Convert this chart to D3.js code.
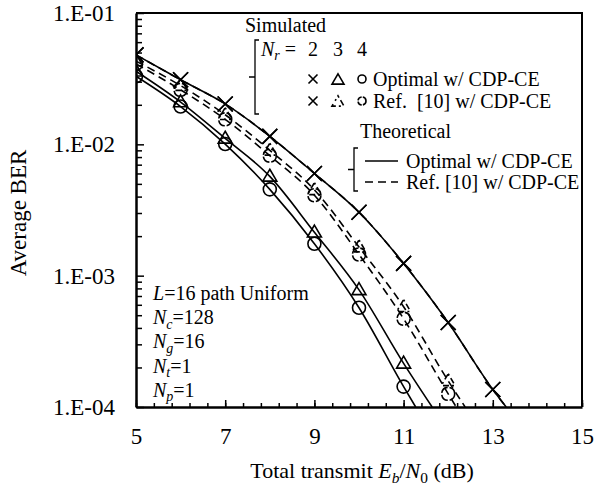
<!DOCTYPE html>
<html>
<head>
<meta charset="utf-8">
<script src="https://cdn.jsdelivr.net/npm/d3@7"></script>
<style>
  body { margin: 0; background: #fff; }
  svg text { font-family: "Liberation Serif", Tinos, "Times New Roman", Times, "DejaVu Serif", serif; fill: #000; }
</style>
</head>
<body>
<svg id="chart" width="595" height="492"></svg>
<script>
// axis ticks
const xTicks = [5, 7, 9, 11, 13, 15]
const yTicks = [1e-1, 1e-2, 1e-3, 1e-4]
const yTickLabels = ['1.E-01', '1.E-02', '1.E-03', '1.E-04']

// simulated points (Eb/N0 in dB, average BER)
const snrNr2 = [5, 6, 7, 8, 9, 10, 11, 12, 13]
const simOptNr2 = [0.048, 0.031, 0.0203, 0.0115, 0.0060, 0.00304, 0.00124, 0.00044, 0.000136]
const simRefNr2 = [0.048, 0.031, 0.0203, 0.0115, 0.0060, 0.00304, 0.00124, 0.00044, 0.000136]
const snrOpt = [5, 6, 7, 8, 9, 10, 11]
const simOptNr3 = [0.036, 0.0210, 0.0111, 0.0057, 0.00214, 0.00078, 0.000215]
const simOptNr4 = [0.033, 0.0194, 0.01005, 0.00454, 0.00175, 0.00057, 0.000143]
const snrRef = [5, 6, 7, 8, 9, 10, 11, 12]
const simRefNr3 = [0.043, 0.028, 0.0168, 0.0090, 0.0045, 0.00165, 0.00058, 0.000158]
const simRefNr4 = [0.041, 0.026, 0.0155, 0.0082, 0.0041, 0.00145, 0.00047, 0.000126]

// theoretical curves (last point where the line leaves the plot)
const thSnrNr2 = [5, 6, 7, 8, 9, 10, 11, 12, 13, 13.3]
const thOptNr2 = [0.048, 0.031, 0.0203, 0.0115, 0.0060, 0.00304, 0.00124, 0.00044, 0.000136, 0.0001]
const thRefNr2 = [0.048, 0.031, 0.0203, 0.0115, 0.0060, 0.00304, 0.00124, 0.00044, 0.000136, 0.0001]
const thSnrOptNr3 = [5, 6, 7, 8, 9, 10, 11, 11.64]
const thOptNr3 = [0.036, 0.0210, 0.0111, 0.0057, 0.00214, 0.00078, 0.000215, 0.0001]
const thSnrOptNr4 = [5, 6, 7, 8, 9, 10, 11, 11.27]
const thOptNr4 = [0.033, 0.0194, 0.01005, 0.00454, 0.00175, 0.00057, 0.000143, 0.0001]
const thSnrRefNr3 = [5, 6, 7, 8, 9, 10, 11, 12, 12.38]
const thRefNr3 = [0.043, 0.028, 0.0168, 0.0090, 0.0045, 0.00165, 0.00058, 0.000158, 0.0001]
const thSnrRefNr4 = [5, 6, 7, 8, 9, 10, 11, 12, 12.18]
const thRefNr4 = [0.041, 0.026, 0.0155, 0.0082, 0.0041, 0.00145, 0.00047, 0.000126, 0.0001]

const margin = {left: 136, right: 13, top: 13, bottom: 85}
const width = 595, height = 492
const axisFont = 23, titleFont = 22, textFont = 20

const svg = d3.select('#chart')
const x = d3.scaleLinear().domain([5, 15]).range([margin.left, width - margin.right])
const y = d3.scaleLog().domain([1e-4, 1e-1]).range([height - margin.bottom, margin.top])

svg.append('defs').append('clipPath').attr('id', 'plotClip')
  .append('rect')
  .attr('x', x(5)).attr('y', y(1e-1))
  .attr('width', x(15) - x(5)).attr('height', y(1e-4) - y(1e-1))

// text with italic parts and subscripts
function richText(g, px, py, parts, size, anchor) {
  const t = g.append('text').attr('x', px).attr('y', py)
    .style('font-size', size + 'px')
    .attr('text-anchor', anchor || 'start')
  let shifted = 0
  parts.forEach(p => {
    const s = t.append('tspan').text(p.t)
    if (p.i) s.style('font-style', 'italic')
    const want = p.sub ? size * 0.22 : 0
    if (want !== shifted) { s.attr('dy', want - shifted); shifted = want }
    if (p.sub) s.style('font-size', (size * 0.7) + 'px')
  })
  t.attr('xml:space', 'preserve')
  return t
}

// ---- axes
const xMinor = d3.range(0, 26).map(i => 5 + i * 0.4)
const gx = svg.append('g').attr('transform', 'translate(0,' + y(1e-4) + ')')
gx.call(d3.axisBottom(x).tickValues(xMinor).tickSize(-4).tickSizeOuter(0).tickFormat(''))
gx.call(g => g.select('.domain').remove())
const gx2 = svg.append('g').attr('transform', 'translate(0,' + y(1e-4) + ')')
gx2.call(d3.axisBottom(x).tickValues(xTicks).tickSize(-7).tickSizeOuter(0).tickPadding(21).tickFormat(d3.format('d')))
gx2.select('.domain').attr('stroke-width', 2.5)

const yMinor = []
yTicks.slice(1).forEach(d => { for (let k = 2; k <= 9; k++) yMinor.push(d * k) })
const gy = svg.append('g').attr('transform', 'translate(' + x(5) + ',0)')
gy.call(d3.axisLeft(y).tickValues(yMinor).tickSize(-6).tickSizeOuter(0).tickFormat(''))
gy.call(g => g.select('.domain').remove())
const gy2 = svg.append('g').attr('transform', 'translate(' + x(5) + ',0)')
gy2.call(d3.axisLeft(y).tickValues(yTicks).tickSize(-8).tickSizeOuter(0).tickPadding(21)
  .tickFormat((d, i) => yTickLabels[i]))
gy2.select('.domain').attr('stroke-width', 2.5)
svg.selectAll('g').attr('font-family', null).attr('font-size', null)
svg.selectAll('.tick text').style('font-size', axisFont + 'px')
svg.selectAll('.tick line').attr('stroke-width', 1.5)

// axis titles
svg.append('text')
  .attr('transform', 'translate(26,' + 213 + ') rotate(-90)')
  .attr('text-anchor', 'middle')
  .style('font-size', axisFont + 'px')
  .text('Average BER')
richText(svg, 362, 478, [
  {t: 'Total transmit '}, {t: 'E', i: true}, {t: 'b', i: true, sub: true},
  {t: '/'}, {t: 'N', i: true}, {t: '0', sub: true}, {t: ' (dB)'}
], titleFont, 'middle')

// ---- theoretical curves
const line = d3.line().x(d => x(d[0])).y(d => y(d[1])).curve(d3.curveMonotoneX)
const plot = svg.append('g').attr('clip-path', 'url(#plotClip)')
const theory = [
  {xs: thSnrNr2, ys: thOptNr2, dash: null},
  {xs: thSnrNr2, ys: thRefNr2, dash: '8,5'},
  {xs: thSnrOptNr3, ys: thOptNr3, dash: null},
  {xs: thSnrOptNr4, ys: thOptNr4, dash: null},
  {xs: thSnrRefNr3, ys: thRefNr3, dash: '8,5'},
  {xs: thSnrRefNr4, ys: thRefNr4, dash: '8,5'}
]
theory.forEach(c => {
  plot.append('path')
    .datum(c.xs.map((v, i) => [v, c.ys[i]]))
    .attr('d', line)
    .attr('fill', 'none')
    .attr('stroke', '#000')
    .attr('stroke-width', 1.6)
    .attr('stroke-dasharray', c.dash)
})

// ---- markers
function drawMarker(g, kind, cx, cy, s, broken) {
  let m
  if (kind === 'x') {
    m = g.append('path').attr('d', 'M' + (cx - s) + ',' + (cy - s) + 'L' + (cx + s) + ',' + (cy + s) +
      'M' + (cx - s) + ',' + (cy + s) + 'L' + (cx + s) + ',' + (cy - s))
  } else if (kind === 'tri') {
    const h = s * 1.7
    m = g.append('path').attr('d', 'M' + cx + ',' + (cy - h * 0.6) + 'L' + (cx + s) + ',' + (cy + h * 0.4) +
      'L' + (cx - s) + ',' + (cy + h * 0.4) + 'Z')
    if (broken) m.attr('stroke-dasharray', '2,3,6,4')
  } else {
    m = g.append('circle').attr('cx', cx).attr('cy', cy).attr('r', s)
    if (broken) m.attr('stroke-dasharray', (s * 1.3) + ',' + (s * 0.3))
  }
  m.attr('fill', 'none').attr('stroke', '#000').attr('stroke-width', 1.6)
}

const sims = [
  {xs: snrNr2, ys: simOptNr2, kind: 'x', broken: false},
  {xs: snrNr2, ys: simRefNr2, kind: 'x', broken: true},
  {xs: snrOpt, ys: simOptNr3, kind: 'tri', broken: false},
  {xs: snrOpt, ys: simOptNr4, kind: 'circle', broken: false},
  {xs: snrRef, ys: simRefNr3, kind: 'tri', broken: true},
  {xs: snrRef, ys: simRefNr4, kind: 'circle', broken: true}
]
sims.forEach(sr => {
  sr.xs.forEach((v, i) => {
    const size = sr.kind === 'x' ? 7.5 : (sr.kind === 'tri' ? 7 : 6.5)
    drawMarker(plot, sr.kind, x(v), y(sr.ys[i]), size, sr.broken)
  })
})

// ---- annotation
const notes = [
  [{t: 'L', i: true}, {t: '=16 path Uniform'}],
  [{t: 'N', i: true}, {t: 'c', i: true, sub: true}, {t: '=128'}],
  [{t: 'N', i: true}, {t: 'g', i: true, sub: true}, {t: '=16'}],
  [{t: 'N', i: true}, {t: 't', i: true, sub: true}, {t: '=1'}],
  [{t: 'N', i: true}, {t: 'p', i: true, sub: true}, {t: '=1'}]
]
notes.forEach((n, i) => richText(svg, 153, 300 + i * 24.2, n, textFont))

// ---- legend
const lg = svg.append('g')
function bracket(bx, top, bot) {
  const mid = (top + bot) / 2
  lg.append('path')
    .attr('d', 'M' + (bx + 4) + ',' + top + 'L' + bx + ',' + top + 'L' + bx + ',' + bot + 'L' + (bx + 4) + ',' + bot +
      'M' + (bx - 6) + ',' + mid + 'L' + bx + ',' + mid)
    .attr('fill', 'none').attr('stroke', '#000').attr('stroke-width', 1.3)
}
lg.append('text').attr('x', 245).attr('y', 32).style('font-size', textFont + 'px').text('Simulated')
bracket(255, 40, 114)
richText(lg, 261, 56, [{t: 'N', i: true}, {t: 'r', i: true, sub: true}, {t: ' = '}], textFont)
const legX = [313, 338, 362]
const legN = ['2', '3', '4']
legN.forEach((d, i) => lg.append('text').attr('x', legX[i]).attr('y', 56)
  .attr('text-anchor', 'middle').style('font-size', textFont + 'px').text(d))
drawMarker(lg, 'x', legX[0], 79, 4.5, false)
drawMarker(lg, 'tri', legX[1], 80, 6, false)
drawMarker(lg, 'circle', legX[2], 79, 4, false)
drawMarker(lg, 'x', legX[0], 101, 4.5, false)
drawMarker(lg, 'tri', legX[1], 102, 6, true)
drawMarker(lg, 'circle', legX[2], 101, 4, true)
lg.append('text').attr('x', 373).attr('y', 86).style('font-size', textFont + 'px').text('Optimal w/ CDP-CE')
lg.append('text').attr('x', 373).attr('y', 108).style('font-size', textFont + 'px')
  .attr('xml:space', 'preserve').text('Ref.  [10] w/ CDP-CE')

lg.append('text').attr('x', 360).attr('y', 138).style('font-size', textFont + 'px').text('Theoretical')
bracket(354, 148, 191)
lg.append('line').attr('x1', 365).attr('x2', 398).attr('y1', 161).attr('y2', 161)
  .attr('stroke', '#000').attr('stroke-width', 1.6)
lg.append('line').attr('x1', 365).attr('x2', 398).attr('y1', 182).attr('y2', 182)
  .attr('stroke', '#000').attr('stroke-width', 1.6).attr('stroke-dasharray', '8,5')
lg.append('text').attr('x', 406).attr('y', 168).style('font-size', textFont + 'px').text('Optimal w/ CDP-CE')
lg.append('text').attr('x', 406).attr('y', 189).style('font-size', textFont + 'px').text('Ref. [10] w/ CDP-CE')

// ---- frame (top and right edges)
svg.append('path')
  .attr('d', 'M' + x(5) + ',' + y(1e-1) + 'L' + x(15) + ',' + y(1e-1) + 'L' + x(15) + ',' + y(1e-4))
  .attr('fill', 'none').attr('stroke', '#000').attr('stroke-width', 2)
</script>
</body>
</html>
